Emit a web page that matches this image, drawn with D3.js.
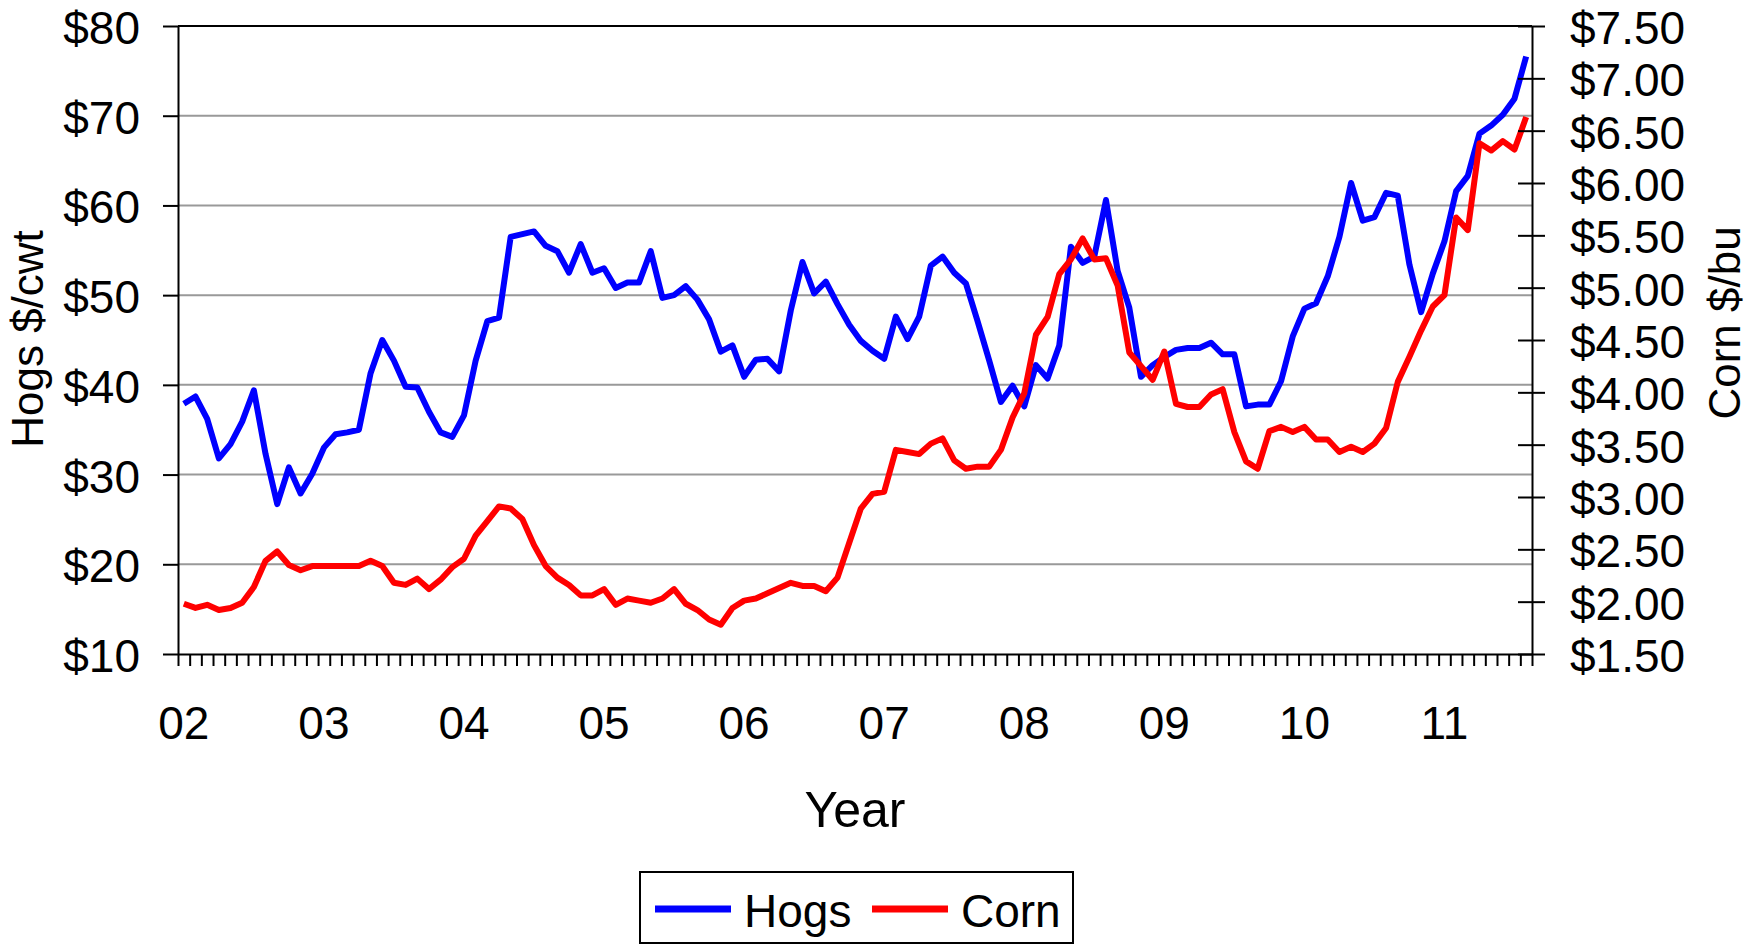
<!DOCTYPE html>
<html><head><meta charset="utf-8">
<script src="https://cdn.jsdelivr.net/npm/d3@7"></script>
<style>
html,body{margin:0;padding:0;background:#fff;}
svg{display:block;font-family:"Liberation Sans",Arial,sans-serif;}
</style></head><body>
<svg id="chart" width="1759" height="944"></svg>
<script>
// Monthly prices, Jan 2002 - Aug 2011
const hogs = [
 37.9,38.7,36.2,31.8,33.4,35.9,39.4,32.3,26.7,30.8,27.9,30.1,
 33.0,34.5,34.7,35.0,41.3,45.0,42.7,39.8,39.7,37.0,34.7,34.2,
 36.6,42.7,47.1,47.5,56.5,56.8,57.1,55.5,54.9,52.5,55.7,52.5,
 53.0,50.8,51.4,51.4,54.9,49.7,50.0,51.0,49.5,47.3,43.7,44.4,
 40.9,42.8,42.9,41.5,48.3,53.7,50.2,51.5,49.0,46.7,44.9,43.8,
 42.9,47.6,45.1,47.6,53.3,54.3,52.5,51.3,47.1,42.7,38.1,39.9,
 37.6,42.2,40.7,44.4,55.4,53.6,54.3,60.6,52.7,48.6,40.9,42.2,
 43.1,43.9,44.1,44.1,44.7,43.4,43.4,37.6,37.8,37.8,40.4,45.4,
 48.5,49.1,52.1,56.5,62.5,58.3,58.7,61.4,61.1,53.4,48.1,52.4,
 56.0,61.6,63.3,68.0,68.9,70.1,71.9,76.6
];
const corn = [
 1.98,1.94,1.97,1.92,1.94,1.99,2.14,2.39,2.48,2.35,2.30,2.34,
 2.34,2.34,2.34,2.34,2.39,2.34,2.18,2.16,2.22,2.12,2.21,2.33,
 2.41,2.63,2.77,2.91,2.89,2.79,2.54,2.34,2.23,2.16,2.06,2.06,
 2.12,1.97,2.03,2.01,1.99,2.03,2.12,1.98,1.92,1.83,1.78,1.94,
 2.01,2.03,2.08,2.13,2.18,2.15,2.15,2.10,2.23,2.56,2.89,3.03,
 3.05,3.45,3.43,3.41,3.51,3.56,3.35,3.27,3.29,3.29,3.45,3.76,
 3.99,4.55,4.72,5.13,5.27,5.47,5.27,5.28,5.02,4.38,4.25,4.12,
 4.39,3.89,3.86,3.86,3.98,4.03,3.62,3.34,3.27,3.63,3.67,3.62,
 3.67,3.55,3.55,3.43,3.48,3.43,3.51,3.66,4.10,4.34,4.59,4.82,
 4.93,5.67,5.55,6.38,6.31,6.40,6.32,6.63
];
const yearLabels = ["02","03","04","05","06","07","08","09","10","11"];
const hogTicks = [10,20,30,40,50,60,70,80];
const cornTicks = [1.5,2,2.5,3,3.5,4,4.5,5,5.5,6,6.5,7,7.5];
const seriesNames = ["Hogs","Corn"];
const seriesColors = ["#0000ff","#ff0000"];
const months = d3.timeMonth.range(new Date(2002,0,1), new Date(2011,8,1));

const svg = d3.select("#chart");
const L = 178, R = 1532, T = 26, B = 654;
const FS = 46;

const x = d3.scaleBand().domain(months.map((d,i)=>i)).range([L,R]).padding(0);
const xc = i => x(i) + x.bandwidth()/2;
const xEdge = d3.scaleLinear().domain([0, months.length]).range([L,R]);
const yL = d3.scaleLinear().domain([10,80]).range([B,T]);
const yR = d3.scaleLinear().domain([1.5,7.5]).range([B,T]);

// gridlines
svg.append("g").selectAll("line").data(hogTicks.filter(d=>d>10 && d<80)).join("line")
  .attr("x1",L).attr("x2",R).attr("y1",d=>yL(d)).attr("y2",d=>yL(d))
  .attr("stroke","#999").attr("stroke-width",2);

// top border
svg.append("line").attr("x1",L).attr("x2",R).attr("y1",yL(80)).attr("y2",yL(80))
  .attr("stroke","#000").attr("stroke-width",2);

// series
svg.append("path").datum(hogs).attr("fill","none").attr("stroke",seriesColors[0])
  .attr("stroke-width",6).attr("stroke-linejoin","round")
  .attr("d", d3.line().x((d,i)=>xc(i)).y(d=>yL(d)));
svg.append("path").datum(corn).attr("fill","none").attr("stroke",seriesColors[1])
  .attr("stroke-width",6).attr("stroke-linejoin","round")
  .attr("d", d3.line().x((d,i)=>xc(i)).y(d=>yR(d)));

function styleAxis(g){
  g.selectAll("path.domain").attr("stroke","#000").attr("stroke-width",2);
  g.selectAll(".tick line").attr("stroke","#000").attr("stroke-width",2);
  g.selectAll("text").attr("font-size",FS).attr("fill","#000")
    .attr("font-family",'"Liberation Sans",Arial,sans-serif');
}

// left axis
const gl = svg.append("g").attr("transform",`translate(${L},0)`)
  .call(d3.axisLeft(yL).tickValues(hogTicks).tickSize(15).tickSizeOuter(0).tickPadding(23)
    .tickFormat(d=>"$"+d));
styleAxis(gl);
gl.selectAll("text").attr("dy","0.38em");

// right axis
const gr = svg.append("g").attr("transform",`translate(${R},0)`)
  .call(d3.axisRight(yR).tickValues(cornTicks).tickSize(13).tickSizeOuter(0).tickPadding(25)
    .tickFormat(d=>"$"+d.toFixed(2)));
styleAxis(gr);
gr.selectAll(".tick line").attr("x1",-14);
gr.selectAll("text").attr("dy","0.38em");

// bottom axis ticks
const gb = svg.append("g").attr("transform",`translate(0,${B})`)
  .call(d3.axisBottom(xEdge).tickValues(d3.range(0, months.length+1)).tickSize(12).tickSizeOuter(0).tickFormat(""));
styleAxis(gb);
// bottom labels
const gbl = svg.append("g").attr("transform",`translate(0,${B})`)
  .call(d3.axisBottom(x).tickValues(d3.range(0, months.length, 12)).tickSize(0).tickPadding(52)
    .tickFormat(i=>yearLabels[i/12]));
gbl.select("path.domain").remove();
styleAxis(gbl);

// axis titles
svg.append("text").attr("transform",`translate(43,339) rotate(-90)`)
  .attr("text-anchor","middle").attr("font-size",44).text("Hogs $/cwt");
svg.append("text").attr("transform",`translate(1740,323) rotate(-90)`)
  .attr("text-anchor","middle").attr("font-size",44).text("Corn $/bu");
svg.append("text").attr("x",(L+R)/2).attr("y",827)
  .attr("text-anchor","middle").attr("font-size",50).text("Year");

// legend
const lg = svg.append("g");
lg.append("rect").attr("x",640).attr("y",872).attr("width",433).attr("height",71)
  .attr("fill","#fff").attr("stroke","#000").attr("stroke-width",2);
const legX = [655, 872];
seriesNames.forEach((n,k)=>{
  lg.append("line").attr("x1",legX[k]).attr("x2",legX[k]+76).attr("y1",909).attr("y2",909)
    .attr("stroke",seriesColors[k]).attr("stroke-width",7);
  lg.append("text").attr("x",legX[k]+89).attr("y",927).attr("font-size",46).text(n);
});
</script>
</body></html>
